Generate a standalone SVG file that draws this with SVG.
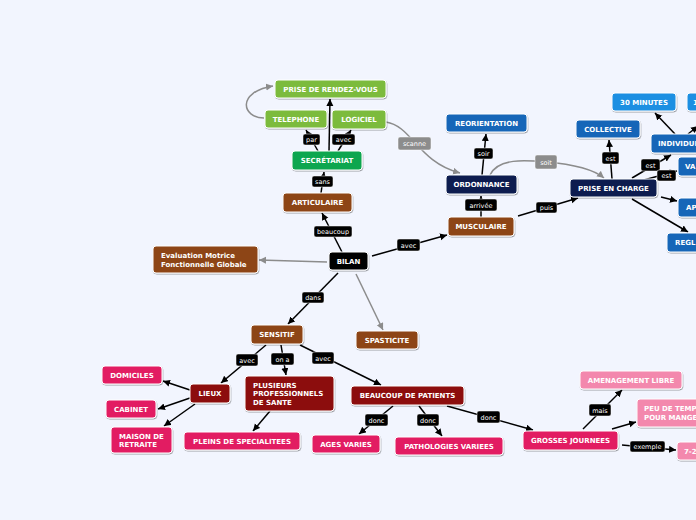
<svg xmlns="http://www.w3.org/2000/svg" width="696" height="520" viewBox="0 0 696 520">
<defs>
<marker id="ab" markerUnits="userSpaceOnUse" markerWidth="8" markerHeight="8" refX="7" refY="3.5" orient="auto"><path d="M0,0 L7,3.5 L0,7 z" fill="#000"/></marker>
<marker id="ag" markerUnits="userSpaceOnUse" markerWidth="8" markerHeight="8" refX="7" refY="3.5" orient="auto"><path d="M0,0 L7,3.5 L0,7 z" fill="#8c8c8c"/></marker>
<filter id="sh" x="-10%" y="-20%" width="120%" height="150%"><feDropShadow dx="0.6" dy="1" stdDeviation="0.6" flood-color="#000" flood-opacity="0.35"/></filter>
</defs>
<style>
.n rect{stroke:#ffffff;stroke-width:1;filter:url(#sh)}
.n text{font-family:"DejaVu Sans","Liberation Sans",sans-serif;font-weight:bold;font-size:7px;fill:#fff;text-anchor:middle}
.n text.l{text-anchor:start}
.c path{fill:none;stroke:#000;stroke-width:1.5;marker-end:url(#ab)}
.c path.g{stroke:#8c8c8c;marker-end:url(#ag)}
.lb rect{fill:#000;stroke:#fff;stroke-width:0.5}
.lb rect.g{fill:#8c8c8c}
.lb text{font-family:"DejaVu Sans","Liberation Sans",sans-serif;font-size:6.5px;fill:#fff;text-anchor:middle}
.green{fill:#7cbb3e}.sgreen{fill:#10a64f}.brown{fill:#8d4516}.navy{fill:#0b1f4f}.blue{fill:#1766b8}.lblue{fill:#1f8fe2}.dred{fill:#8c0e0b}.pink{fill:#e21c62}.lpink{fill:#f388ad}.black{fill:#000}
</style>
<rect width="696" height="520" fill="#f2f5fe"/>
<g id="connectors" class="c">
<path d="M342,252 L322,213"/>
<path d="M321,193 L324,172"/>
<path d="M329,151 L330,99"/>
<path d="M318,151 L306,130"/>
<path d="M338,151 L351,130"/>
<path class="g" d="M264,118 C242,118 236,92 273,86"/>
<path class="g" d="M386,122 C412,126 418,162 460,173"/>
<path d="M482,175 L486,134"/>
<path d="M481,217 L481,196"/>
<path class="g" d="M490,175 C498,158 525,160 546,162 C570,164 592,168 604,178"/>
<path d="M518,216 L578,198"/>
<path d="M372,256 L447,235"/>
<path d="M612,179 L609,140"/>
<path d="M632,178 L671,155"/>
<path d="M640,181 L677,171"/>
<path d="M661,197 L677,201"/>
<path d="M632,199 L688,232"/>
<path d="M675,134 L655,113"/>
<path d="M688,134 L698,126"/>
<path class="g" d="M327,262 L259,260"/>
<path d="M338,273 L288,324"/>
<path class="g" d="M356,274 L383,330"/>
<path d="M266,345 L221,383"/>
<path d="M281,345 L286,375"/>
<path d="M300,345 L381,385"/>
<path d="M190,390 L163,381"/>
<path d="M190,398 L158,409"/>
<path d="M195,404 L164,426"/>
<path d="M270,411 L253,431"/>
<path d="M393,406 L359,434"/>
<path d="M419,406 L442,436"/>
<path d="M447,406 L533,430"/>
<path d="M583,429 L622,390"/>
<path d="M612,429 L636,422"/>
<path d="M622,445 L676,450"/>
</g>
<g id="labels" class="lb">
<rect x="314" y="226" width="38" height="11" rx="2"/><text x="333" y="234">beaucoup</text>
<rect x="312" y="176" width="21" height="11" rx="2"/><text x="322.5" y="184">sans</text>
<rect x="303" y="134" width="17" height="11" rx="2"/><text x="311.5" y="142">par</text>
<rect x="332" y="134" width="23" height="11" rx="2"/><text x="343.5" y="142">avec</text>
<rect class="g" x="398" y="137" width="33" height="13" rx="2"/><text x="414.5" y="146">scanne</text>
<rect x="474" y="148" width="19" height="11" rx="2"/><text x="483.5" y="156">soir</text>
<rect x="465" y="199" width="32" height="12" rx="2"/><text x="481" y="207.5">arrivée</text>
<rect class="g" x="535" y="155" width="22" height="14" rx="2"/><text x="546" y="164.5">soit</text>
<rect x="536" y="202" width="21" height="11" rx="2"/><text x="546.5" y="210">puis</text>
<rect x="397" y="239" width="23" height="12" rx="2"/><text x="408.5" y="247.5">avec</text>
<rect x="602" y="152" width="17" height="12" rx="2"/><text x="610.5" y="160.5">est</text>
<rect x="641" y="159" width="19" height="12" rx="2"/><text x="650.5" y="167.5">est</text>
<rect x="657" y="170" width="19" height="11" rx="2"/><text x="666.5" y="178">est</text>
<rect x="302" y="292" width="22" height="11" rx="2"/><text x="313" y="300">dans</text>
<rect x="236" y="354" width="22" height="12" rx="2"/><text x="247" y="362.5">avec</text>
<rect x="271" y="353" width="23" height="12" rx="2"/><text x="282.5" y="361.5">on a</text>
<rect x="312" y="352" width="22" height="12" rx="2"/><text x="323" y="360.5">avec</text>
<rect x="365" y="414" width="23" height="12" rx="2"/><text x="376.5" y="422.5">donc</text>
<rect x="417" y="414" width="22" height="12" rx="2"/><text x="428" y="422.5">donc</text>
<rect x="477" y="411" width="23" height="12" rx="2"/><text x="488.5" y="419.5">donc</text>
<rect x="589" y="404" width="22" height="12" rx="2"/><text x="600" y="412.5">mais</text>
<rect x="630" y="441" width="35" height="11" rx="2"/><text x="647.5" y="449">exemple</text>
</g>
<g id="n-rdv" class="n"><rect class="green" x="275" y="80" width="111" height="18" rx="3"/><text x="330.5" y="91.5">PRISE DE RENDEZ-VOUS</text></g>
<g id="n-tel" class="n"><rect class="green" x="265" y="110" width="62" height="18" rx="3"/><text x="296" y="121.5">TELEPHONE</text></g>
<g id="n-log" class="n"><rect class="green" x="332" y="110" width="54" height="19" rx="3"/><text x="359" y="122">LOGICIEL</text></g>
<g id="n-sec" class="n"><rect class="sgreen" x="292" y="151" width="70" height="19" rx="3"/><text x="327" y="163">SECRÉTARIAT</text></g>
<g id="n-art" class="n"><rect class="brown" x="283" y="193" width="69" height="19" rx="3"/><text x="317.5" y="205">ARTICULAIRE</text></g>
<g id="n-reo" class="n"><rect class="blue" x="446" y="114" width="81" height="18" rx="3"/><text x="486.5" y="125.5">REORIENTATION</text></g>
<g id="n-ord" class="n"><rect class="navy" x="446" y="175" width="71" height="19" rx="3"/><text x="481.5" y="187">ORDONNANCE</text></g>
<g id="n-mus" class="n"><rect class="brown" x="448" y="217" width="66" height="19" rx="3"/><text x="481" y="229">MUSCULAIRE</text></g>
<g id="n-pec" class="n"><rect class="navy" x="570" y="179" width="87" height="18" rx="3"/><text x="613.5" y="190.5">PRISE EN CHARGE</text></g>
<g id="n-col" class="n"><rect class="blue" x="576" y="120" width="64" height="18" rx="3"/><text x="608" y="131.5">COLLECTIVE</text></g>
<g id="n-30" class="n"><rect class="lblue" x="612" y="93" width="64" height="18" rx="3"/><text x="644" y="104.5">30 MINUTES</text></g>
<g id="n-1" class="n"><rect class="lblue" x="687" y="93" width="40" height="18" rx="3"/><text class="l" x="693" y="104.5">1</text></g>
<g id="n-ind" class="n"><rect class="blue" x="651" y="134" width="70" height="19" rx="3"/><text class="l" x="658" y="146">INDIVIDUELLE</text></g>
<g id="n-va" class="n"><rect class="blue" x="678" y="157" width="40" height="19" rx="3"/><text class="l" x="685" y="169">VA</text></g>
<g id="n-ap" class="n"><rect class="blue" x="678" y="198" width="40" height="19" rx="3"/><text class="l" x="686" y="210">AP</text></g>
<g id="n-regl" class="n"><rect class="blue" x="667" y="233" width="50" height="19" rx="3"/><text class="l" x="675" y="245">REGL</text></g>
<g id="n-bilan" class="n"><rect class="black" x="329" y="252" width="39" height="18" rx="3"/><text x="348.5" y="263.5">BILAN</text></g>
<g id="n-emfg" class="n"><rect class="brown" x="153" y="246" width="105" height="27" rx="3"/><text class="l" x="161" y="257.5">Evaluation Motrice</text><text class="l" x="161" y="266.5">Fonctionnelle Globale</text></g>
<g id="n-sens" class="n"><rect class="brown" x="251" y="325" width="52" height="19" rx="3"/><text x="277" y="337">SENSITIF</text></g>
<g id="n-spas" class="n"><rect class="brown" x="356" y="331" width="62" height="18" rx="3"/><text x="387" y="342.5">SPASTICITE</text></g>
<g id="n-lieux" class="n"><rect class="dred" x="190" y="384" width="40" height="19" rx="3"/><text x="210" y="396">LIEUX</text></g>
<g id="n-pps" class="n"><rect class="dred" x="245" y="376" width="89" height="35" rx="3"/><text class="l" x="253" y="387.5">PLUSIEURS</text><text class="l" x="253" y="396">PROFESSIONNELS</text><text class="l" x="253" y="405">DE SANTE</text></g>
<g id="n-bdp" class="n"><rect class="dred" x="351" y="386" width="113" height="19" rx="3"/><text x="407.5" y="398">BEAUCOUP DE PATIENTS</text></g>
<g id="n-dom" class="n"><rect class="pink" x="102" y="366" width="60" height="18" rx="3"/><text x="132" y="377.5">DOMICILES</text></g>
<g id="n-cab" class="n"><rect class="pink" x="106" y="400" width="50" height="18" rx="3"/><text x="131" y="411.5">CABINET</text></g>
<g id="n-mdr" class="n"><rect class="pink" x="111" y="427" width="61" height="26" rx="3"/><text class="l" x="119" y="438.5">MAISON DE</text><text class="l" x="119" y="447">RETRAITE</text></g>
<g id="n-pds" class="n"><rect class="pink" x="184" y="432" width="116" height="18" rx="3"/><text x="242" y="443.5">PLEINS DE SPECIALITEES</text></g>
<g id="n-av" class="n"><rect class="pink" x="312" y="435" width="68" height="18" rx="3"/><text x="346" y="446.5">AGES VARIES</text></g>
<g id="n-pv" class="n"><rect class="pink" x="395" y="437" width="108" height="18" rx="3"/><text x="449" y="448.5">PATHOLOGIES VARIEES</text></g>
<g id="n-gj" class="n"><rect class="pink" x="523" y="431" width="95" height="19" rx="3"/><text x="570.5" y="443">GROSSES JOURNEES</text></g>
<g id="n-al" class="n"><rect class="lpink" x="580" y="371" width="102" height="18" rx="3"/><text x="631" y="382.5">AMENAGEMENT LIBRE</text></g>
<g id="n-pdt" class="n"><rect class="lpink" x="637" y="399" width="75" height="28" rx="3"/><text class="l" x="644" y="410.5">PEU DE TEMPS</text><text class="l" x="644" y="420">POUR MANGER</text></g>
<g id="n-72" class="n"><rect class="lpink" x="677" y="442" width="40" height="18" rx="3"/><text class="l" x="684" y="453.5">7-2</text></g>
</svg>
